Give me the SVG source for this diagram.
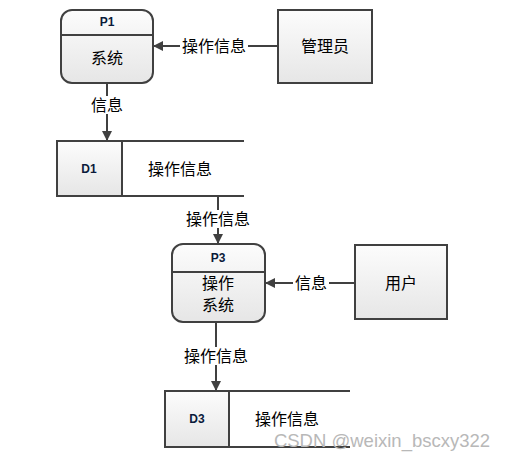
<svg xmlns="http://www.w3.org/2000/svg" width="506" height="459" viewBox="0 0 506 459">
<defs>
<linearGradient id="g" x1="0" y1="0" x2="0" y2="1">
<stop offset="0" stop-color="#fcfcfc"/>
<stop offset="1" stop-color="#e6e6e6"/>
</linearGradient>
<marker id="arr" markerWidth="10" markerHeight="10" refX="9" refY="5" orient="auto" markerUnits="userSpaceOnUse">
<path d="M0,0 L10,5 L0,10 Z" fill="#404040"/>
</marker>
<style>
.box{fill:url(#g);stroke:#404040;stroke-width:2}
.ln{stroke:#404040;stroke-width:2;fill:none}
.t{font-family:"Liberation Sans","Noto Sans CJK SC",sans-serif;font-size:16px;fill:#000;text-anchor:middle;dominant-baseline:central}
.id{font-family:"Liberation Sans","Noto Sans CJK SC",sans-serif;font-size:12px;font-weight:bold;fill:#0a1a3a;text-anchor:middle;dominant-baseline:central}
.lab{fill:#fff}
</style>
</defs>
<rect width="506" height="459" fill="#fff"/>
<g id="connectors">
<line class="ln" x1="278" y1="46" x2="154" y2="46" marker-end="url(#arr)"/>
<rect class="lab" x="180" y="37" width="68" height="18"/>
<text class="t" x="214" y="46">操作信息</text>
<line class="ln" x1="107" y1="83" x2="107" y2="140" marker-end="url(#arr)"/>
<rect class="lab" x="89" y="96" width="36" height="18"/>
<text class="t" x="107" y="105">信息</text>
<line class="ln" x1="218" y1="196" x2="218" y2="243" marker-end="url(#arr)"/>
<rect class="lab" x="184" y="210" width="68" height="18"/>
<text class="t" x="218" y="219">操作信息</text>
<line class="ln" x1="355" y1="283" x2="266" y2="283" marker-end="url(#arr)"/>
<rect class="lab" x="293" y="274" width="36" height="18"/>
<text class="t" x="311" y="283">信息</text>
<line class="ln" x1="216" y1="322" x2="216" y2="390" marker-end="url(#arr)"/>
<rect class="lab" x="182" y="347" width="68" height="18"/>
<text class="t" x="216" y="356">操作信息</text>
</g>
<g id="P1">
<rect class="box" x="61" y="10" width="92" height="73" rx="11"/>
<line class="ln" x1="61" y1="35" x2="153" y2="35"/>
<text class="id" x="107" y="22">P1</text>
<text class="t" x="107" y="58">系统</text>
</g>
<g id="admin">
<rect class="box" x="278" y="10" width="94" height="73"/>
<text class="t" x="325" y="46">管理员</text>
</g>
<g id="D1">
<rect x="57" y="141" width="65" height="55" fill="url(#g)"/>
<path class="ln" d="M244,141 H57 V196 H244 M122,141 V196"/>
<text class="id" x="89" y="169">D1</text>
<text class="t" x="180" y="169">操作信息</text>
</g>
<g id="P3">
<rect class="box" x="172" y="244" width="93" height="78" rx="11"/>
<line class="ln" x1="172" y1="272" x2="265" y2="272"/>
<text class="id" x="218" y="258">P3</text>
<text class="t" x="218" y="283">操作</text>
<text class="t" x="218" y="305">系统</text>
</g>
<g id="user">
<rect class="box" x="355" y="245" width="92" height="74"/>
<text class="t" x="401" y="283">用户</text>
</g>
<g id="D3">
<rect x="165" y="391" width="64" height="56" fill="url(#g)"/>
<path class="ln" d="M350,391 H165 V447 H350 M229,391 V447"/>
<text class="id" x="197" y="419">D3</text>
<text class="t" x="287" y="419">操作信息</text>
</g>
<text x="382" y="440" font-family="Liberation Sans,sans-serif" font-size="18.5" fill="#b8b8b8" text-anchor="middle" dominant-baseline="central">CSDN @weixin_bscxy322</text>
</svg>
